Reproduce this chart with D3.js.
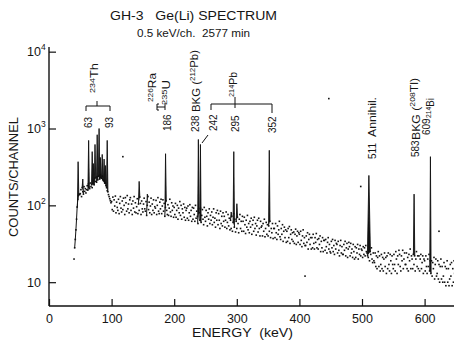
<!DOCTYPE html>
<html>
<head>
<meta charset="utf-8">
<script src="https://cdn.jsdelivr.net/npm/d3@7"></script>
<style>
  body { margin: 0; background: #fff; }
  text { font-family: "Liberation Sans", Arial, sans-serif; fill: #151515; }
</style>
</head>
<body>
<svg id="chart" width="454" height="342"></svg>
<script>
// background counts per channel, 1 keV steps starting at 40 keV
const startE = 40;
const background = [
  20,28,36,48,66,95,120,135,140,138,
  142,160,130,170,150,140,175,152,165,145,
  160,180,158,190,172,165,195,175,185,170,
  190,210,185,225,205,230,200,235,215,240,
  245,220,250,230,225,240,215,210,205,195,
  195,180,170,155,150,138,130,122,115,108,
  112,88,128,84,118,98,132,80,110,94,
  86,120,78,106,130,92,82,114,88,124,
  100,76,126,108,84,134,90,104,80,118,
  126,86,104,76,114,92,130,82,108,80,
  96,122,78,104,86,128,106,76,114,90,
  82,104,124,90,84,112,74,100,130,88,
  110,80,98,124,76,104,86,118,80,96,
  92,116,76,100,126,84,78,110,90,120,
  78,98,118,84,106,72,94,114,86,76,
  102,74,92,120,82,72,108,86,98,70,
  94,76,106,70,86,100,66,92,80,112,
  74,100,66,90,80,104,70,94,64,86,
  92,68,98,64,80,102,72,86,62,94,
  66,92,76,62,100,68,84,72,58,90,
  80,64,92,60,74,88,66,56,94,70,
  62,86,72,54,80,66,90,58,74,64,
  82,56,70,90,60,68,52,80,64,86,
  56,78,64,50,84,58,72,54,80,62,
  72,52,64,82,50,60,76,54,68,48,
  64,50,72,46,60,78,52,66,45,62,
  50,70,58,44,66,76,50,62,46,72,
  62,46,70,56,43,64,52,74,48,58,
  44,62,52,68,42,56,64,46,70,50,
  58,41,54,64,45,68,50,40,62,52,
  54,40,58,46,66,39,50,60,42,56,
  40,54,46,62,38,50,44,58,37,50,
  50,38,58,44,36,54,42,48,62,39,
  36,50,42,56,34,46,52,38,48,33,
  46,34,50,38,53,32,42,48,36,44,
  34,45,32,42,49,31,40,46,33,44,
  42,31,46,35,29,40,48,32,38,30,
  30,40,33,44,27,36,42,31,38,27,
  38,28,42,32,27,38,33,43,28,36,
  27,37,31,40,25,34,28,38,25,35,
  35,26,36,29,24,33,38,27,31,25,
  24,34,28,36,25,30,23,35,27,32,
  31,24,34,26,22,30,35,24,29,23,
  23,31,26,34,22,28,32,21,27,33,
  29,22,32,24,27,21,31,25,20,29,
  21,28,24,31,20,27,23,30,22,27,
  26,21,29,23,28,22,30,25,24,22,
  21,27,19,25,23,28,20,18,24,19,
  18,24,16,22,15,21,25,16,22,14,
  17,23,15,21,14,20,24,16,21,13,
  22,15,24,17,14,23,19,13,22,17,
  15,23,17,14,25,20,13,22,17,26,
  23,16,14,22,19,26,15,20,24,17,
  17,24,15,21,14,23,19,27,15,22,
  20,15,23,17,22,14,20,25,16,22,
  15,22,14,20,23,15,18,22,13,20,
  19,14,22,16,13,20,16,23,14,19,
  13,19,12,18,15,21,11,17,20,12,
  13,19,11,17,10,16,20,11,16,10,
  12,18,10,16,9,15,19,10,15,9,
  11,17,12,18,9,15,10,19,13,10,
  14
];

// stray channels away from the band
const strayE = [118, 447, 409, 498, 623];
const strayCounts = [430, 2450, 12, 176, 46];

// gamma lines: energy (keV) and peak counts
const peakE = [46.5, 54, 63.3, 69, 70.8, 73.5, 77, 80, 82, 85, 88, 90, 93,
  144, 157, 186.2, 238.6, 241.9, 291, 295.2, 300.1, 351.9, 511, 583.2, 609.3];
const peakTop = [370, 220, 700, 500, 350, 620, 830, 1000, 420, 460, 400, 330, 700,
  205, 140, 470, 720, 620, 82, 500, 105, 520, 245, 140, 430];

const xTicks = [0, 100, 200, 300, 400, 500, 600];
const yTicks = [10, 100, 1000, 10000];

const energyLabels = ['63', '93', '186', '238', '242', '295', '352', '511', '583', '609'];
const nuclPre = ['', '', '', 'BKG (', '', 'Annihil.', 'BKG (', ''];
const nuclMass = ['234', '226', '235', '212', '214', '', '208', '214'];
const nuclSym = ['Th', 'Ra', 'U', 'Pb)', 'Pb', '', 'Tl)', 'Bi'];

const svg = d3.select('#chart');

const x = d3.scaleLinear().domain([0, 650]).range([49, 455.9]);
const y = d3.scaleLog().domain([4.9, 11500]).range([306, 47]);

const bgAt = e => background[Math.round(e) - startE];

// axes
svg.append('line')
  .attr('x1', 49).attr('x2', 454).attr('y1', 306).attr('y2', 306)
  .attr('stroke', '#111').attr('stroke-width', 1.4);
svg.append('line')
  .attr('x1', 49).attr('x2', 49).attr('y1', 47).attr('y2', 306)
  .attr('stroke', '#111').attr('stroke-width', 1.4);

const xAxis = d3.axisBottom(x)
  .tickValues(xTicks)
  .tickSize(-7)
  .tickSizeOuter(0)
  .tickPadding(8)
  .tickFormat(d3.format('d'));

const gx = svg.append('g')
  .attr('transform', 'translate(0,306)')
  .call(xAxis);
gx.select('.domain').remove();
gx.selectAll('line').attr('stroke', '#111').attr('stroke-width', 1.2);
gx.selectAll('text').style('font-size', '12.5px').attr('fill', '#151515');

const yAxis = d3.axisLeft(y)
  .tickValues(yTicks)
  .tickSize(-7)
  .tickSizeOuter(0)
  .tickFormat('');

const gy = svg.append('g')
  .attr('transform', 'translate(49,0)')
  .call(yAxis);
gy.select('.domain').remove();
gy.selectAll('line').attr('stroke', '#111').attr('stroke-width', 1.2);

yTicks.forEach(v => {
  const p = Math.round(Math.log10(v));
  const t = svg.append('text')
    .attr('x', 27)
    .attr('y', y(v) + 4.5)
    .style('font-size', '12.5px')
    .text('10');
  if (p > 1) {
    t.append('tspan').attr('dy', -6).style('font-size', '8.5px').text(p);
  }
});

// spectrum: background channels as dots
const bgPoints = background.map((c, i) => [startE + i, c]);

svg.append('g')
  .selectAll('rect')
  .data(bgPoints.concat(strayE.map((e, i) => [e, strayCounts[i]])))
  .enter()
  .append('rect')
  .attr('x', d => x(d[0]) - 0.8)
  .attr('y', d => y(d[1]) - 0.8)
  .attr('width', 1.6)
  .attr('height', 1.6)
  .attr('fill', '#111');

const line = d3.line().x(d => x(d[0])).y(d => y(d[1]));

// low energy edge
svg.append('path')
  .attr('d', line(bgPoints.slice(1, 8)))
  .attr('fill', 'none')
  .attr('stroke', '#111')
  .attr('stroke-width', 1);

// peaks
svg.append('g')
  .selectAll('path')
  .data(peakE.map((e, i) => [e, peakTop[i]]))
  .enter()
  .append('path')
  .attr('d', d => {
    const hw = d[0] === 511 ? 2.4 : 1.1;
    return line([[d[0] - hw, bgAt(d[0] - hw)], [d[0], d[1]], [d[0] + hw, bgAt(d[0] + hw)]]);
  })
  .attr('fill', '#111')
  .attr('stroke', '#111')
  .attr('stroke-width', 0.9)
  .attr('stroke-linejoin', 'round');

// titles
svg.append('text')
  .attr('x', 110).attr('y', 20)
  .attr('textLength', 167).attr('lengthAdjust', 'spacingAndGlyphs')
  .style('font-size', '12px')
  .style('white-space', 'pre')
  .text('GH-3   Ge(Li) SPECTRUM');

svg.append('text')
  .attr('x', 137).attr('y', 37)
  .attr('textLength', 113).attr('lengthAdjust', 'spacingAndGlyphs')
  .style('font-size', '10px')
  .style('white-space', 'pre')
  .text('0.5 keV/ch.  2577 min');

svg.append('text')
  .attr('transform', 'translate(18,237) rotate(-90)')
  .attr('textLength', 120).attr('lengthAdjust', 'spacingAndGlyphs')
  .style('font-size', '12px')
  .text('COUNTS/CHANNEL');

svg.append('text')
  .attr('x', 192).attr('y', 337)
  .attr('textLength', 101).attr('lengthAdjust', 'spacingAndGlyphs')
  .style('font-size', '12px')
  .style('white-space', 'pre')
  .text('ENERGY  (keV)');

// rotated labels: a group per label carries the rotation
function vlabel(cx, bottom) {
  return svg.append('g')
    .attr('transform', 'translate(' + (cx + 3.6) + ',' + bottom + ') rotate(-90)')
    .append('text')
    .attr('x', 0)
    .attr('y', 0)
    .style('font-size', '10px');
}

// peak energy labels: [center x, bottom y]
const energyPos = [[88, 128], [109, 128], [167, 131], [195, 132], [213, 131],
  [235, 132], [272, 133], [372, 159], [415, 157], [426, 135]];

energyLabels.forEach((s, i) => {
  vlabel(energyPos[i][0], energyPos[i][1]).text(s);
});

// nuclide labels: [center x, bottom y, length]
const nuclPos = [[96, 93, 30], [153.5, 102, 29], [167.5, 105, 25], [196, 112, 62],
  [235, 97, 25], [372, 137, 40], [416, 140, 62], [432, 118, 20]];

nuclPre.forEach((pre, i) => {
  const t = vlabel(nuclPos[i][0], nuclPos[i][1])
    .attr('textLength', nuclPos[i][2])
    .attr('lengthAdjust', 'spacingAndGlyphs')
    .style('white-space', 'pre');
  if (pre) t.append('tspan').text(pre);
  if (nuclMass[i]) {
    t.append('tspan').attr('dy', -4.5).style('font-size', '7px').text(nuclMass[i]);
    t.append('tspan').attr('dy', 3).text(nuclSym[i]);
  }
});

// brackets and leaders
const marks = [
  'M86,111V106H110V111', 'M97,106V101',
  'M159,104H157V110H159', 'M157,107H165', 'M165,103V110',
  'M211,110V104H272V113', 'M235,97V108',
  'M208,135L202,143'
];
svg.append('g')
  .selectAll('path')
  .data(marks)
  .enter()
  .append('path')
  .attr('d', d => d)
  .attr('fill', 'none')
  .attr('stroke', '#111')
  .attr('stroke-width', 1);
</script>
</body>
</html>
